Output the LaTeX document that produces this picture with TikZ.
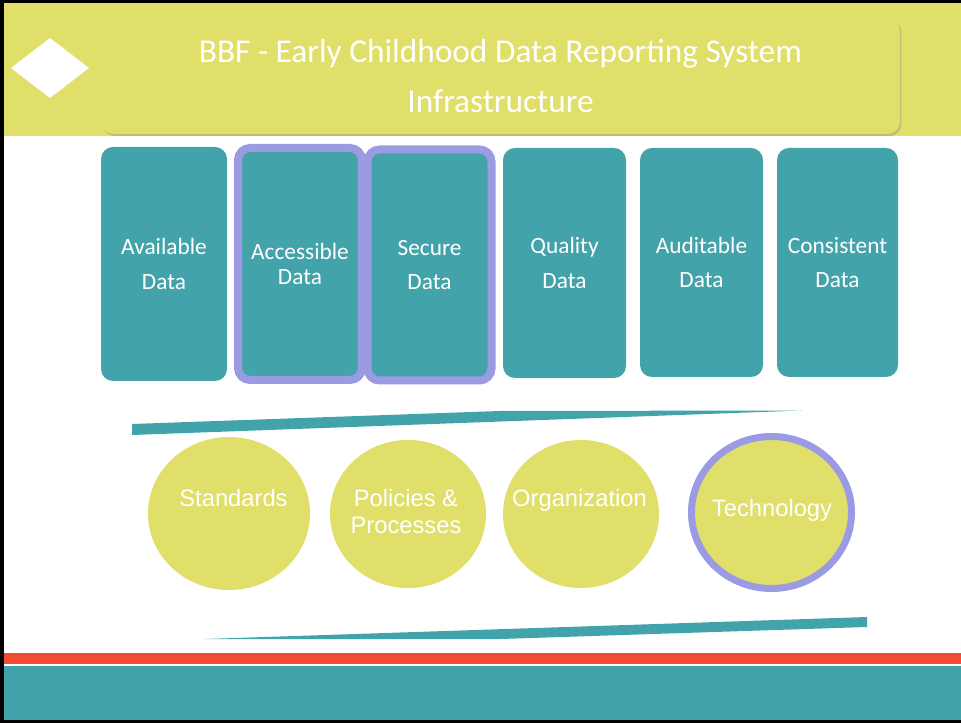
\documentclass[tikz,border=0pt]{standalone}
\usepackage{fontspec}
\setmainfont{Carlito}
\newfontfamily\arialfont{Liberation Sans}
\usepackage{tikz}
\usepackage{xcolor}
\usetikzlibrary{shapes.geometric, shadows, positioning, calc}

\definecolor{bbfteal}{HTML}{43A3AA}
\definecolor{bbfyellow}{HTML}{E0DF6A}
\definecolor{bbfpurple}{HTML}{9B9BE3}
\definecolor{bbfred}{HTML}{F44B33}

\tikzset{
  databox/.style={rectangle, rounded corners=9pt, fill=bbfteal, text=white,
    align=center, inner sep=0pt, font=\fontsize{17.5}{26}\selectfont},
  plainbox/.style={},
  hilite/.style={draw=bbfpurple, line width=6pt},
  pillar/.style={ellipse, fill=bbfyellow, inner sep=0pt},
  pillartext/.style={text=white, align=center, inner sep=0pt,
    font=\arialfont\fontsize{17.8}{20}\selectfont}
}

\begin{document}
\begin{tikzpicture}[x=0.75pt, y=-0.75pt]
\useasboundingbox (0,0) rectangle (961,723);

% Frame and title band
\fill[black] (0,0) rectangle (961,723);
\fill[white] (4,3) rectangle (961,720);
\fill[bbfyellow] (4,3) rectangle (961,136);
\fill[white] (11,68) -- (50,38) -- (89,68) -- (50,98) -- cycle;
\node[rounded corners=9pt, fill=bbfyellow, text=white, align=center,
  drop shadow={shadow xshift=1.2pt, shadow yshift=-1.5pt, opacity=0.35},
  minimum width=599pt, minimum height=87pt,
  font=\fontsize{25}{37.5}\selectfont] (title) at (500.5,76)
  {BBF - Early Childhood Data Reporting System\\Infrastructure};

% Data boxes
\foreach \cx/\cy/\bw/\bh/\sty/\name/\txt in {
    164/264/126/234/plainbox/avail/Available\\[0pt]Data,
    429.5/265/124/231/hilite/secure/Secure\\[0pt]Data,
    564.5/263/123/230/plainbox/quality/Quality\\[0pt]Data,
    701.5/262.5/123/229/plainbox/audit/Auditable\\[0pt]Data,
    837.5/262.5/121/229/plainbox/consist/Consistent\\[0pt]Data} {
  \node[databox, \sty, minimum width=\bw*0.75pt, minimum height=\bh*0.75pt]
    (\name) at (\cx,\cy) {\txt};
}
\node[databox, hilite, minimum width=93pt, minimum height=174pt,
  font=\fontsize{17.5}{19}\selectfont] (access) at (300,264) {Accessible\\Data};

% Slanted bars
\fill[bbfteal] (132,424) -- (500,411) -- (802,410.5) -- (132,435) -- cycle;
\fill[bbfteal] (205,639) -- (501,639) -- (867,627) -- (867,617) -- cycle;

% Pillars
\foreach \cx/\cy/\bw/\bh/\tx/\ty/\name/\txt in {
    229/513.5/162/153/233.5/498/std/Standards,
    408/514/156/148/406/511.5/pol/Policies \&\\Processes,
    581/514/156/148/579.5/500/org/Organization} {
  \node[pillar, minimum width=\bw*0.75pt, minimum height=\bh*0.75pt] (\name) at (\cx,\cy) {};
  \node[pillartext] (\name-t) at (\tx,\ty) {\txt};
}
\node[pillar, draw=bbfpurple, line width=5.25pt, minimum width=120pt,
  minimum height=114pt] (tech) at (771.5,512.5) {};
\node[pillartext] (tech-t) at (772,510) {Technology};

% Footer
\fill[bbfred] (4,653) rectangle (961,664);
\fill[bbfteal] (4,666) rectangle (961,720);
\end{tikzpicture}
\end{document}
